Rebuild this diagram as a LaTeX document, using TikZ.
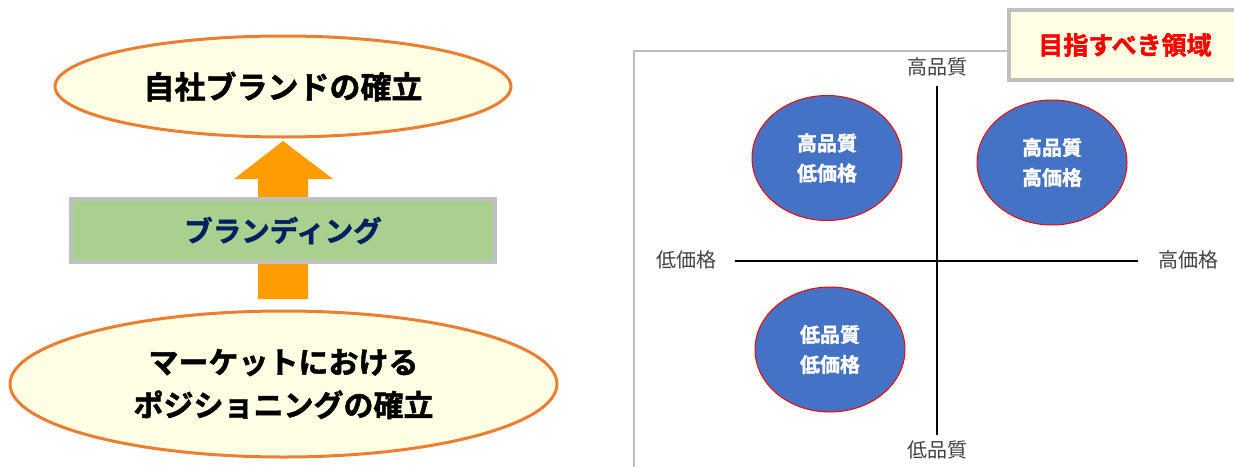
\documentclass[tikz,border=0pt]{standalone}
\usepackage{fontspec}
\setmainfont{Noto Sans CJK JP}[BoldFont={Noto Sans CJK JP Bold}]
\newfontfamily\heavyjp{Noto Sans CJK JP Bold}[FakeBold=1.6]
\usetikzlibrary{shapes.geometric}
\definecolor{ellorange}{HTML}{ED7D31}
\definecolor{ellfill}{HTML}{FFFFE3}
\definecolor{arroworange}{HTML}{FF9D00}
\definecolor{boxgray}{HTML}{C0C0C0}
\definecolor{boxgreen}{HTML}{A9D08E}
\definecolor{navy}{HTML}{002060}
\definecolor{framegray}{HTML}{BFBFBF}
\definecolor{circblue}{HTML}{4472C4}
\definecolor{labelgray}{HTML}{404040}
\definecolor{goalred}{HTML}{FF0000}
\tikzset{
  goalellipse/.style={ellipse, draw=ellorange, line width=3pt, fill=ellfill, inner sep=0pt, align=center, text=black},
  bigtext/.style={font=\heavyjp\fontsize{30}{43}\selectfont},
  quadcircle/.style={ellipse, draw=red, line width=1pt, fill=circblue, minimum width=150pt, minimum height=125pt, inner sep=0pt, align=center, text=white, font=\heavyjp\fontsize{20}{30}\selectfont},
  axislabel/.style={text=labelgray, inner sep=0pt, font=\fontsize{20}{24}\selectfont},
  axisline/.style={line width=2.3pt, black}
}
\begin{document}
\begin{tikzpicture}[x=1pt,y=-1pt]
\useasboundingbox (0,0) rectangle (1234,466);
\clip (0,0) rectangle (1234,466);
% left side
\node[goalellipse, minimum width=456pt, minimum height=101pt, font=\heavyjp\fontsize{31}{36}\selectfont] (brand) at (283,86.5) {自社ブランドの確立};
\node[goalellipse, minimum width=547pt, minimum height=146pt, bigtext] (position) at (283.5,384) {マーケットにおける\\ポジショニングの確立};
\fill[arroworange] (283,141) -- (333,179) -- (308,179) -- (308,299) -- (258,299) -- (258,179) -- (234,179) -- cycle;
\node[rectangle, draw=boxgray, line width=4pt, fill=boxgreen, minimum width=424pt, minimum height=63pt, inner sep=0pt, text=navy, font=\heavyjp\fontsize{28.5}{34}\selectfont] (branding) at (283,230.5) {ブランディング};
% right side frame
\draw[framegray, line width=2pt] (634,480) -- (634,51) -- (1240,51);
\node[rectangle, draw=boxgray, line width=4pt, fill=ellfill, minimum width=232pt, minimum height=70pt, inner sep=0pt, text=goalred, font=\heavyjp\fontsize{25}{30}\selectfont] (goal) at (1125,45) {目指すべき領域};
% axes
\node[axislabel] (qhigh) at (937,67) {高品質};
\node[axislabel] (qlow) at (937,450) {低品質};
\node[axislabel] (plow) at (686,260) {低価格};
\node[axislabel] (phigh) at (1188,260) {高価格};
\coordinate (vtop) at (937,86);
\coordinate (vbot) at (937,435);
\coordinate (hleft) at (735,261);
\coordinate (hright) at (1138,261);
\draw[axisline] (vtop) -- (vbot);
\draw[axisline] (hleft) -- (hright);
% quadrant circles
\node[quadcircle] (hqlp) at (827,158) {高品質\\低価格};
\node[quadcircle] (hqhp) at (1052,162.5) {高品質\\高価格};
\node[quadcircle] (lqlp) at (830,349.5) {低品質\\低価格};
\end{tikzpicture}
\end{document}
